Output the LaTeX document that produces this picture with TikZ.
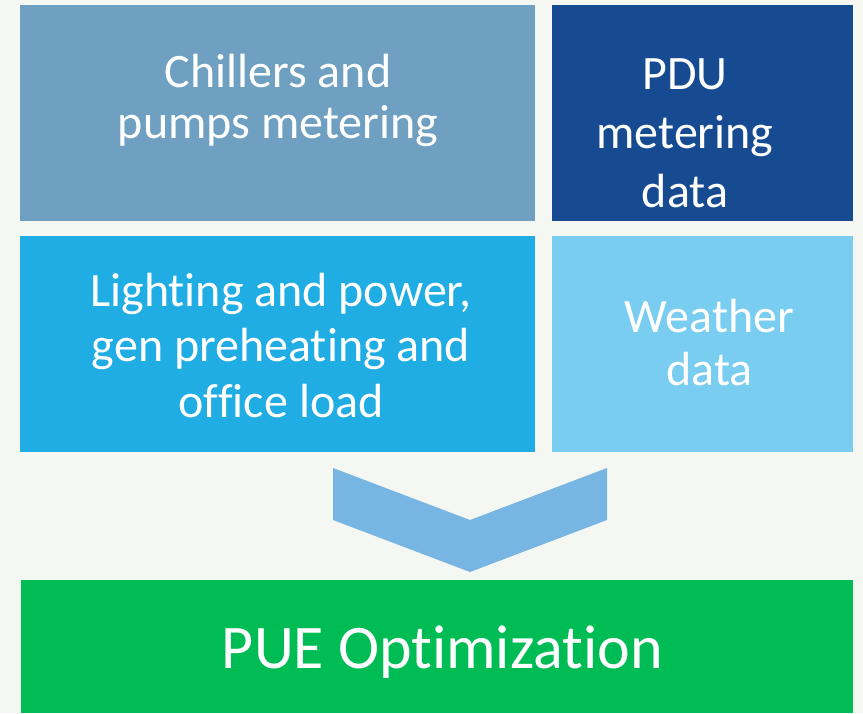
\documentclass[tikz,border=0pt]{standalone}
\usepackage{fontspec}
\setmainfont{Carlito}[RawFeature={-liga;-clig;-dlig;-calt;-rlig}]
\newcommand\mytop{\rule{0pt}{40pt}}
\newcommand\mybot{\rule[-12pt]{0pt}{12pt}}
\newcommand\brk{\kern0pt{}}
\definecolor{bgc}{HTML}{F5F7F2}
\definecolor{cA}{HTML}{6FA0C1}
\definecolor{cB}{HTML}{164B92}
\definecolor{cC}{HTML}{1FADE4}
\definecolor{cD}{HTML}{78CDF0}
\definecolor{cE}{HTML}{77B5E2}
\definecolor{cF}{HTML}{00BC55}
\begin{document}
\begin{tikzpicture}[x=1pt,y=-1pt,
  box/.style={draw=none,inner sep=0pt,outer sep=0pt,anchor=north west},
  lbl/.style={text=white,align=center,inner sep=0pt,anchor=north}]
\fill[bgc] (0,0) rectangle (863,713);
\useasboundingbox (0,0) rectangle (863,713);
\node[box,fill=cA,minimum width=515pt,minimum height=216pt] (b1) at (20,5) {};
\node[box,fill=cB,minimum width=301pt,minimum height=216pt] (b2) at (552,5) {};
\node[box,fill=cC,minimum width=515pt,minimum height=216pt] (b3) at (20,236) {};
\node[box,fill=cD,minimum width=301pt,minimum height=216pt] (b4) at (552,236) {};
\node[box,fill=cF,minimum width=832pt,minimum height=133pt] (b5) at (21,580) {};
\fill[cE] (333,468) -- (470,520) -- (607,468) -- (607,520) -- (470,572) -- (333,520) -- cycle;
\node[lbl,font=\fontsize{48}{51.5}\selectfont] (t1) at (278,47) {\mytop Chillers and\\pumps metering\mybot};
\node[lbl,font=\fontsize{48}{59}\selectfont] (t2) at (685,49) {\mytop PDU\\metering\\data\mybot};
\node[lbl,font=\fontsize{48}{55.5}\selectfont] (t3) at (281,266) {\mytop Light\brk ing and power,\\gen preheat\brk ing and\\of\brk f\brk ice load\mybot};
\node[lbl,font=\fontsize{48}{53.3}\selectfont] (t4) at (709.5,292) {\mytop Weather\\data\mybot};
\node[lbl,font=\fontsize{62}{74}\selectfont,anchor=base] (t5) at (442.5,668) {PUE Opt\brk imizat\brk ion};
\end{tikzpicture}
\end{document}
